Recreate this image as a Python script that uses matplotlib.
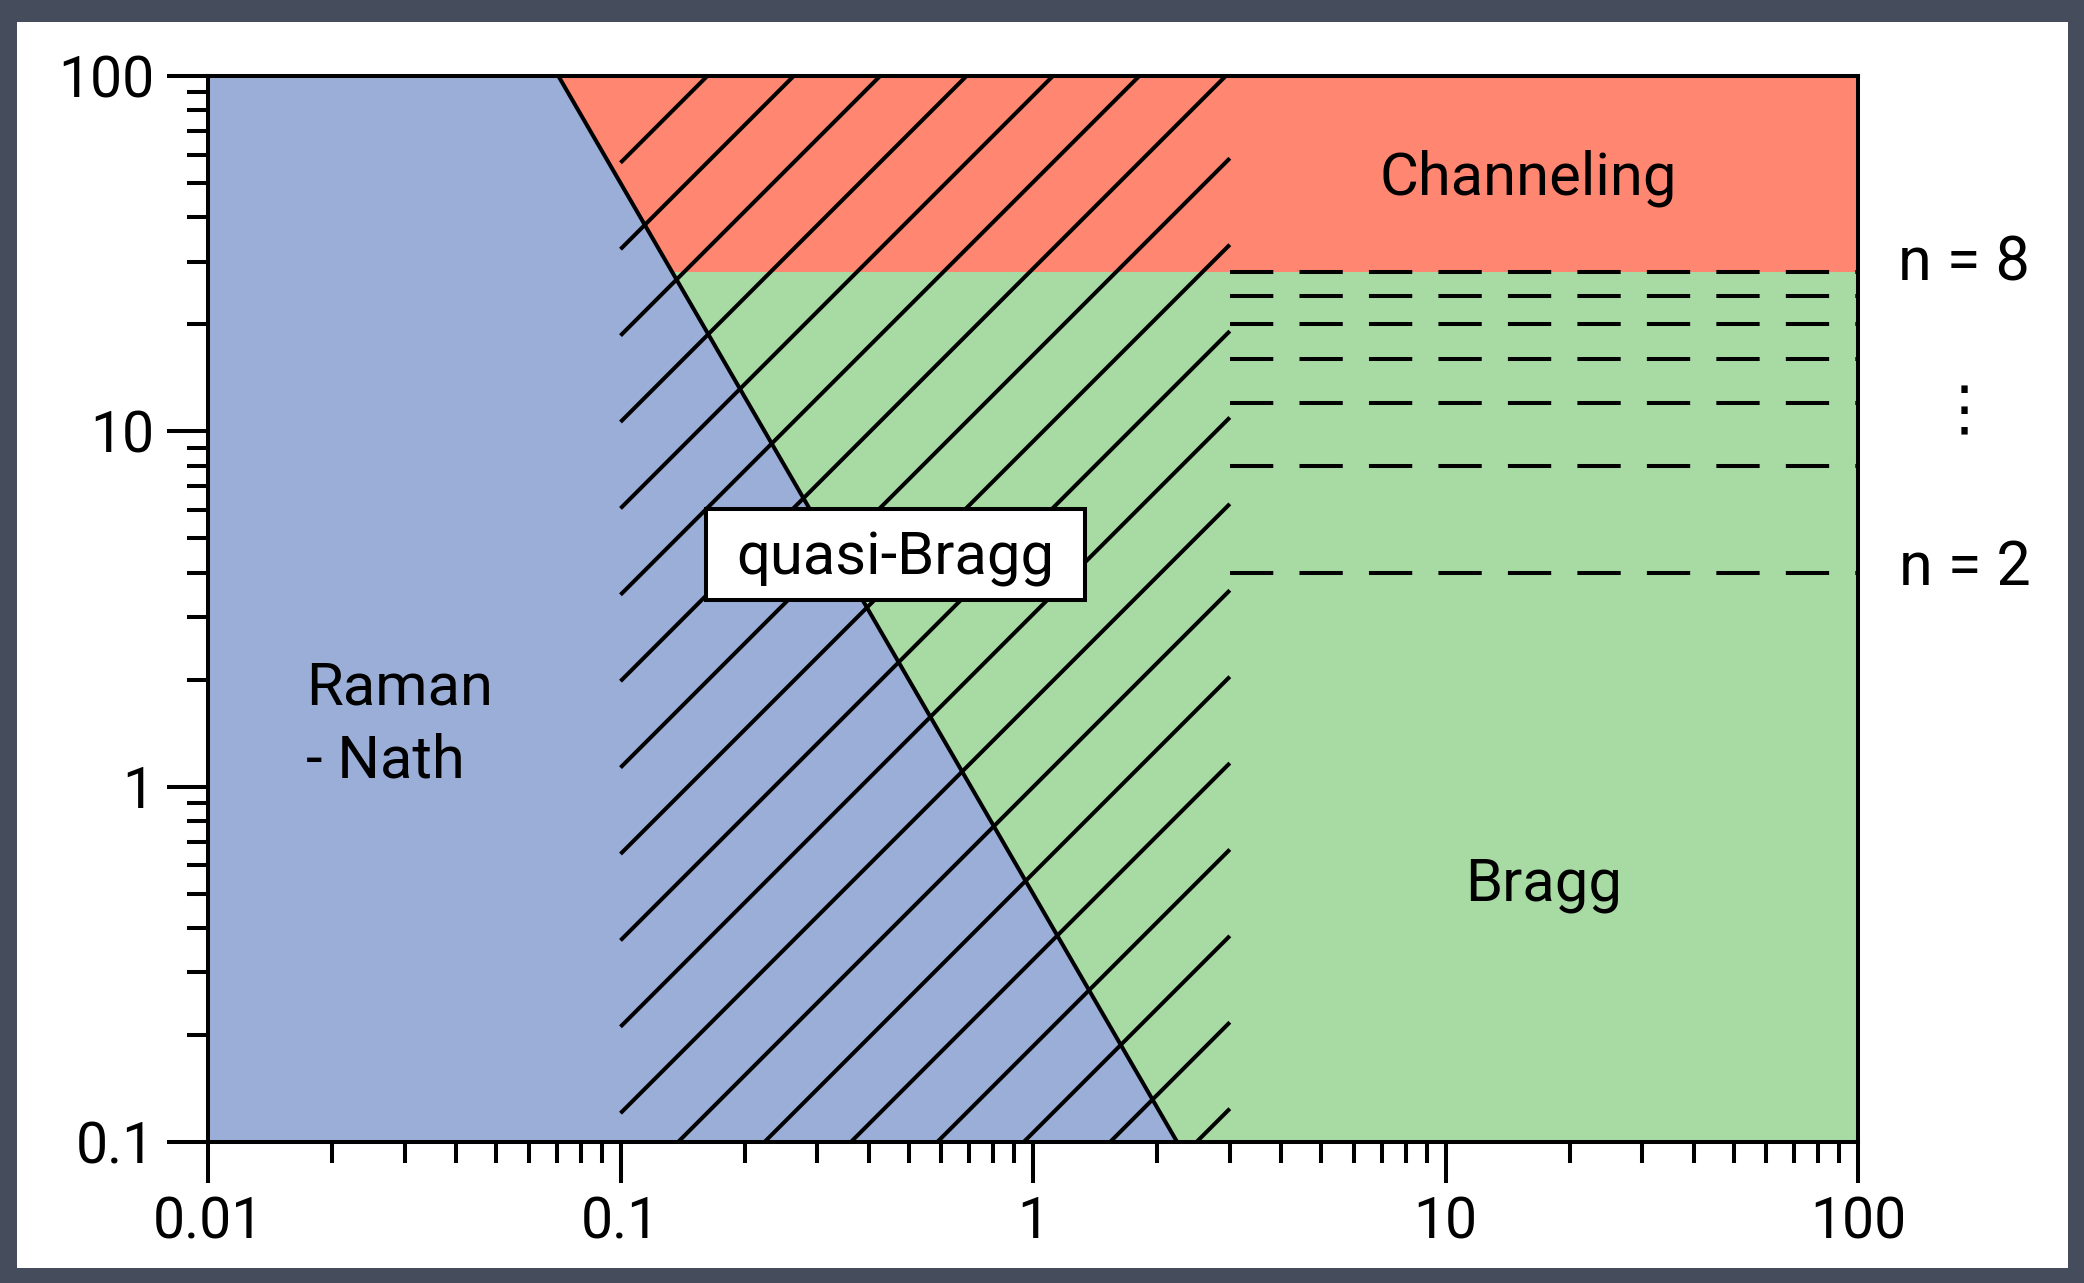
import numpy as np
import matplotlib.pyplot as plt
from matplotlib.patches import Rectangle, Polygon
from matplotlib.collections import LineCollection
from matplotlib.transforms import Affine2D

plt.rcParams['font.family'] = ['Roboto', 'DejaVu Sans']

# axes log-log
x_min, x_max = 0.01, 100
y_min, y_max = 0.1, 100

# limite Raman-Nath / Bragg (droite en log-log)
boundary_x = [0.0707, 2.236]
boundary_y = [100, 0.1]
channeling_q = 28                       # au-dessus : channeling
bragg_q = [4, 8, 12, 16, 20, 24, 28]    # résonances n = 2 ... 8
quasi_bragg_x = [0.1, 3]                # zone hachurée

xticks = [0.01, 0.1, 1, 10, 100]
xticklabels = ['0.01', '0.1', '1', '10', '100']
yticks = [0.1, 1, 10, 100]
yticklabels = ['0.1', '1', '10', '100']

blue = '#9aaed7'
red = '#ff8670'
green = '#a8dba4'
lw = 2.9

fig = plt.figure(figsize=(20.84, 12.83), dpi=100)
fig.patch.set_facecolor('#454c5c')
fig.add_artist(Rectangle((17/2084, 1 - 1268/1283), (2068 - 17)/2084, (1268 - 22)/1283,
                         transform=fig.transFigure, facecolor='white', edgecolor='none', zorder=0))

ax = fig.add_axes([208/2084, 1 - 1142/1283, 1650/2084, 1066/1283])
ax.set_xscale('log')
ax.set_yscale('log')
ax.set_xlim(x_min, x_max)
ax.set_ylim(y_min, y_max)

# zones colorées
ax.axhspan(channeling_q, y_max, color=red, lw=0, zorder=0)
ax.axhspan(y_min, channeling_q, color=green, lw=0, zorder=0)
ax.add_patch(Polygon([(x_min, y_min), (x_min, y_max),
                      (boundary_x[0], boundary_y[0]), (boundary_x[1], boundary_y[1])],
                     closed=True, facecolor=blue, edgecolor='none', zorder=1))

# hachures à 45° (en pixels de l'axe) limitées à la zone quasi-Bragg
W, H = ax.bbox.width, ax.bbox.height
pix = Affine2D().scale(1/W, 1/H) + ax.transAxes
pL = ax.transData.transform((quasi_bragg_x[0], 1))[0] - ax.bbox.x0
pR = ax.transData.transform((quasi_bragg_x[1], 1))[0] - ax.bbox.x0
segs = []
for d in np.arange(-653.1, 1030, 86.4):
    p0 = max(pL, d)
    p1 = min(pR, d + H)
    if p1 > p0:
        segs.append([(p0, p0 - d), (p1, p1 - d)])
hatch = LineCollection(segs, colors='k', linewidths=lw, transform=pix, zorder=2, capstyle='butt')
ax.add_collection(hatch, autolim=False)

ax.plot(boundary_x, boundary_y, color='k', lw=lw, zorder=2.2, solid_capstyle='butt')
ax.hlines(bragg_q, quasi_bragg_x[1], x_max, colors='k', linewidths=lw,
          linestyles=(0, (10.75, 6.5)), zorder=2.3)

ax.set_xlim(x_min, x_max)
ax.set_ylim(y_min, y_max)

for s in ax.spines.values():
    s.set_linewidth(lw)
ax.set_xticks(xticks, labels=xticklabels)
ax.set_yticks(yticks, labels=yticklabels)
ax.xaxis.set_minor_formatter(plt.NullFormatter())
ax.yaxis.set_minor_formatter(plt.NullFormatter())
ax.tick_params(which='major', direction='out', length=29.5, width=lw, pad=9, labelsize=41)
ax.tick_params(which='minor', direction='out', length=15, width=lw)

fs = 43
ax.text(0.8, 0.889, 'Channeling', transform=ax.transAxes, ha='center', va='baseline', fontsize=fs)
ax.text(0.8097, 0.2264, 'Bragg', transform=ax.transAxes, ha='center', va='baseline', fontsize=fs)
ax.text(0.0594, 0.41, 'Raman', transform=ax.transAxes, ha='left', va='baseline', fontsize=fs)
ax.text(0.0594, 0.3415, '- Nath', transform=ax.transAxes, ha='left', va='baseline', fontsize=fs)

ax.add_patch(Rectangle((0.3018, 0.5084), 0.2297, 0.0854, transform=ax.transAxes,
                       facecolor='white', edgecolor='k', lw=lw, zorder=4))
ax.text(0.4164, 0.5319, 'quasi-Bragg', transform=ax.transAxes, ha='center', va='baseline',
        fontsize=fs, zorder=5)

ax.text(1.0645, 0.8086, 'n = 8', transform=ax.transAxes, ha='center', va='baseline',
        fontsize=44, clip_on=False)
ax.text(1.0645, 0.684, '⋮', transform=ax.transAxes, ha='center', va='center',
        fontsize=44, family=['DejaVu Sans'], clip_on=False)
ax.text(1.0645, 0.5228, 'n = 2', transform=ax.transAxes, ha='center', va='baseline',
        fontsize=44, clip_on=False)

fig.savefig('out.png', dpi=100, facecolor=fig.get_facecolor())
